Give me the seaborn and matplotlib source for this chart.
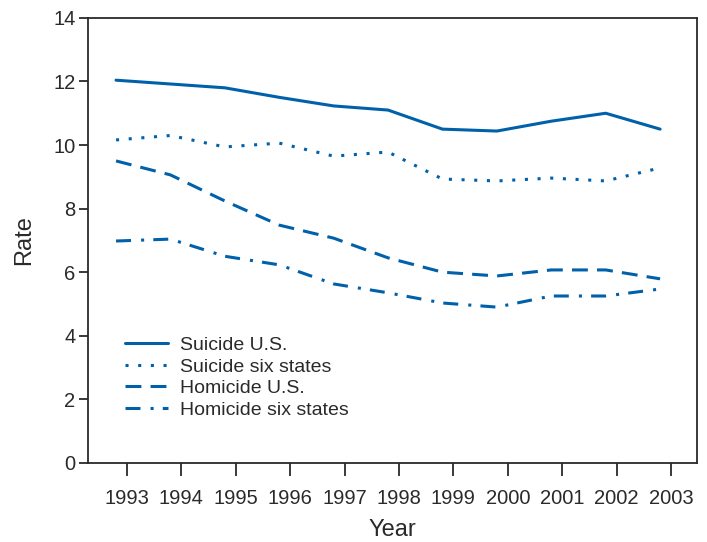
import matplotlib
matplotlib.use("Agg")
import matplotlib.pyplot as plt
import seaborn as sns
import pandas as pd

years = [1993, 1994, 1995, 1996, 1997, 1998, 1999, 2000, 2001, 2002, 2003]
suicide_us = [12.04, 11.92, 11.80, 11.50, 11.23, 11.10, 10.50, 10.44, 10.75, 11.00, 10.50]
suicide_six = [10.16, 10.30, 9.94, 10.06, 9.65, 9.78, 8.93, 8.87, 8.96, 8.87, 9.28]
homicide_us = [9.50, 9.06, 8.24, 7.48, 7.07, 6.45, 6.00, 5.88, 6.07, 6.07, 5.79]
homicide_six = [6.98, 7.04, 6.50, 6.23, 5.63, 5.35, 5.03, 4.90, 5.25, 5.25, 5.47]
series_names = ["Suicide U.S.", "Suicide six states", "Homicide U.S.", "Homicide six states"]
tick_labels = [str(y) for y in years]

sns.set_style("ticks")
plt.rcParams["font.family"] = ["Liberation Sans", "DejaVu Sans"]

df = pd.DataFrame({"Year": years * 4,
                   "Rate": suicide_us + suicide_six + homicide_us + homicide_six,
                   "Series": sum([[n] * len(years) for n in series_names], [])})

color = "#0061AA"
ink = "#2a2a2a"
fig, ax = plt.subplots(figsize=(7.07, 5.42), dpi=100)
fig.subplots_adjust(left=0.1245, right=0.986, top=0.967, bottom=0.146)

styles = {"Suicide U.S.": "-",
          "Suicide six states": (0, (1.0, 3.15)),
          "Homicide U.S.": (0, (5.2, 3.0)),
          "Homicide six states": (0, (4.9, 3.3, 1.0, 3.0))}
for n in series_names:
    sns.lineplot(data=df[df.Series == n], x="Year", y="Rate", ax=ax, color=color,
                 lw=2.2, label=n, linestyle=styles[n])

ax.set_xlim(1992.485, 2003.68)
ax.set_ylim(0, 14)
ax.set_xticks([y + 0.2 for y in years])
ax.set_xticklabels(tick_labels)
ax.set_yticks(range(0, 15, 2))
ax.tick_params(axis="both", labelsize=14.5, width=1.3, color=ink, labelcolor=ink)
ax.tick_params(axis="x", length=9.5, pad=9)
ax.tick_params(axis="y", length=6.5, pad=2.5)
for s in ax.spines.values():
    s.set_linewidth(1.3)
    s.set_color(ink)
ax.set_xlabel("Year", fontsize=17, color=ink, labelpad=8)
ax.set_ylabel("Rate", fontsize=17, color=ink, labelpad=13)

leg = ax.legend(loc="upper left", bbox_to_anchor=(0.061, 0.284), frameon=False, fontsize=14,
                handlelength=2.2, handletextpad=0.6, labelspacing=0.2, borderaxespad=0,
                borderpad=0)
for t in leg.get_texts():
    t.set_color(ink)

fig.savefig("out.png", dpi=100)
